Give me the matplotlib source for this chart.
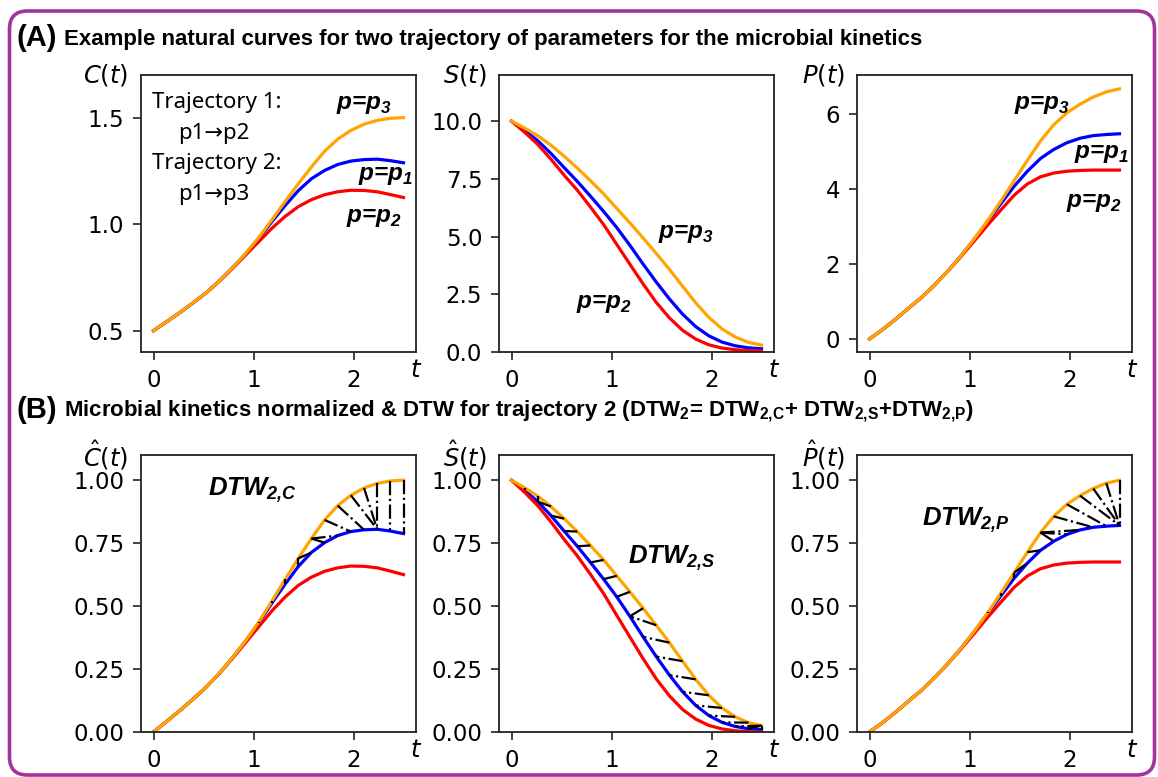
import numpy as np
import matplotlib
matplotlib.use("Agg")
import matplotlib.pyplot as plt
from matplotlib.patches import FancyBboxPatch

# ---------------- data ----------------
t = np.linspace(0, 2.5, 20)

C_p1 = [0.500, 0.542, 0.585, 0.630, 0.678, 0.733, 0.795, 0.861, 0.934, 1.012,
        1.087, 1.157, 1.213, 1.252, 1.280, 1.296, 1.303, 1.305, 1.298, 1.288]
C_p2 = [0.500, 0.542, 0.585, 0.630, 0.678, 0.732, 0.792, 0.855, 0.918, 0.981,
        1.036, 1.082, 1.115, 1.138, 1.152, 1.159, 1.158, 1.152, 1.139, 1.125]
C_p3 = [0.500, 0.542, 0.585, 0.630, 0.678, 0.733, 0.795, 0.862, 0.937, 1.020,
        1.106, 1.189, 1.268, 1.342, 1.399, 1.440, 1.469, 1.487, 1.497, 1.500]

S_p1 = [10.0, 9.60, 9.15, 8.60, 7.99, 7.39, 6.75, 6.09, 5.39, 4.62,
        3.81, 3.03, 2.30, 1.64, 1.10, 0.70, 0.43, 0.27, 0.18, 0.14]
S_p2 = [10.0, 9.52, 8.99, 8.35, 7.66, 7.01, 6.28, 5.52, 4.66, 3.80,
        2.95, 2.15, 1.48, 0.94, 0.56, 0.31, 0.17, 0.10, 0.06, 0.05]
S_p3 = [10.0, 9.70, 9.37, 8.96, 8.48, 7.97, 7.42, 6.85, 6.22, 5.59,
        4.94, 4.27, 3.58, 2.85, 2.13, 1.50, 1.00, 0.65, 0.42, 0.30]

P_p1 = [0.00, 0.25, 0.53, 0.83, 1.12, 1.46, 1.83, 2.24, 2.68, 3.15,
        3.62, 4.08, 4.48, 4.82, 5.06, 5.24, 5.36, 5.43, 5.46, 5.48]
P_p2 = [0.00, 0.25, 0.53, 0.83, 1.12, 1.46, 1.83, 2.22, 2.63, 3.05,
        3.45, 3.84, 4.14, 4.33, 4.43, 4.48, 4.50, 4.51, 4.51, 4.51]
P_p3 = [0.00, 0.25, 0.53, 0.83, 1.12, 1.46, 1.83, 2.24, 2.69, 3.17,
        3.69, 4.23, 4.77, 5.29, 5.72, 6.04, 6.27, 6.46, 6.60, 6.68]

series_names = ["C", "S", "P"]
raw = {"C": (C_p1, C_p2, C_p3), "S": (S_p1, S_p2, S_p3), "P": (P_p1, P_p2, P_p3)}
colors = {"p1": "blue", "p2": "red", "p3": "orange"}

top_labels = {"C": r"$C(t)$", "S": r"$S(t)$", "P": r"$P(t)$"}
bot_labels = {"C": r"$\hat{C}(t)$", "S": r"$\hat{S}(t)$", "P": r"$\hat{P}(t)$"}
top_ylims = {"C": (0.4, 1.7), "S": (0, 12.0), "P": (-0.35, 7.05)}
top_yticks = {"C": [0.5, 1.0, 1.5], "S": [0, 2.5, 5.0, 7.5, 10.0], "P": [0, 2, 4, 6]}
top_yfmt = {"C": "%.1f", "S": "%.1f", "P": "%d"}
bot_yticks = [0, 0.25, 0.5, 0.75, 1.0]
xticks = [0, 1, 2]

title_A = "Example natural curves for two trajectory of parameters for the microbial kinetics"
title_B = (r"Microbial kinetics normalized & DTW for trajectory 2 (DTW$_\mathregular{2}$= "
           r"DTW$_\mathregular{2{,}C}$+ DTW$_\mathregular{2{,}S}$+DTW$_\mathregular{2{,}P}$)")

# annotation texts / anchor positions (data coords)
p_annots = {
    "C": [("3", 1.83, 1.56), ("1", 2.05, 1.23), ("2", 1.92, 1.03)],
    "S": [("3", 1.47, 5.15), ("2", 0.65, 2.12)],
    "P": [("3", 1.44, 6.27), ("1", 2.05, 4.94), ("2", 1.97, 3.64)],
}
dtw_annots = {"C": ("C", 0.54, 0.96), "S": ("S", 1.16, 0.69), "P": ("P", 0.53, 0.84)}
traj_text = ["Trajectory 1:", "p1\u2192p2", "Trajectory 2:", "p1\u2192p3"]


def normalize(curves):
    allv = np.concatenate([np.asarray(c, float) for c in curves])
    lo, hi = allv.min(), allv.max()
    return [(np.asarray(c, float) - lo) / (hi - lo) for c in curves]


def dtw_path(a, b):
    n, m = len(a), len(b)
    D = np.full((n + 1, m + 1), np.inf)
    D[0, 0] = 0.0
    for i in range(1, n + 1):
        for j in range(1, m + 1):
            cost = abs(a[i - 1] - b[j - 1])
            D[i, j] = cost + min(D[i - 1, j], D[i, j - 1], D[i - 1, j - 1])
    i, j = n, m
    path = [(i - 1, j - 1)]
    while (i, j) != (1, 1):
        opts = [(D[i - 1, j - 1], i - 1, j - 1), (D[i - 1, j], i - 1, j), (D[i, j - 1], i, j - 1)]
        _, i, j = min(opts, key=lambda x: x[0])
        path.append((i - 1, j - 1))
    return path[::-1]


# ---------------- figure ----------------
W, H = 1158, 777
fig = plt.figure(figsize=(W / 100, H / 100), dpi=100)

border = FancyBboxPatch((9.5, 2), 1145, 764, boxstyle="round,pad=0,rounding_size=18",
                        transform=None, fill=False, edgecolor="#A1349F", linewidth=2.6)
fig.patches.append(border)

narrow = ["Liberation Sans Narrow", "Liberation Sans", "DejaVu Sans"]
fig.text(16 / W, 1 - 38 / H, "(A)", fontsize=21, fontweight="bold", family="Liberation Sans", va="center")
fig.text(64 / W, 1 - 39 / H, title_A, fontsize=16, fontweight="bold", family=narrow, va="center")
fig.text(16 / W, 1 - 410 / H, "(B)", fontsize=21, fontweight="bold", family="Liberation Sans", va="center")
fig.text(64 / W, 1 - 411 / H, title_B, fontsize=16, fontweight="bold", family=narrow, va="center")

lefts = [141, 499, 857]
axw = 275
rows_top = [75, 455]
axh = 277

LW = 2.3
for col, name in enumerate(series_names):
    c1, c2, c3 = raw[name]
    # ---- top row ----
    ax = fig.add_axes([lefts[col] / W, 1 - (rows_top[0] + axh) / H, axw / W, axh / H])
    ax.plot(t, c1, color=colors["p1"], lw=LW)
    ax.plot(t, c2, color=colors["p2"], lw=LW)
    ax.plot(t, c3, color=colors["p3"], lw=LW)
    ax.set_ylim(*top_ylims[name])
    ax.set_yticks(top_yticks[name])
    ax.yaxis.set_major_formatter(matplotlib.ticker.FormatStrFormatter(top_yfmt[name]))
    ax.set_xticks(xticks)
    ax.text(-0.045, 1.0, top_labels[name], transform=ax.transAxes, ha="right", va="center", fontsize=17.5)
    ax.text(1.0, -0.065, r"$t$", transform=ax.transAxes, ha="center", va="center", fontsize=17.5)
    for sub, x, y in p_annots[name]:
        ax.text(x, y, r"p=p$_\mathregular{%s}$" % sub, fontsize=17.5, fontweight="bold",
                fontstyle="italic", family="Liberation Sans", ha="left", va="center")
    if name == "C":
        ys = [0.9, 0.79, 0.68, 0.57]
        xs = [0.04, 0.135, 0.04, 0.135]
        for s, x, y in zip(traj_text, xs, ys):
            ax.text(x, y, s, transform=ax.transAxes, fontsize=16, family=["Noto Sans", "DejaVu Sans"],
                    ha="left", va="center")

    # ---- bottom row ----
    n1, n2, n3 = normalize((c1, c2, c3))
    axb = fig.add_axes([lefts[col] / W, 1 - (rows_top[1] + axh) / H, axw / W, axh / H])
    axb.plot(t, n1, color=colors["p1"], lw=LW)
    axb.plot(t, n2, color=colors["p2"], lw=LW)
    axb.plot(t, n3, color=colors["p3"], lw=LW)
    for i, j in dtw_path(n3, n1):
        axb.plot([t[i], t[j]], [n3[i], n1[j]], color="black", lw=1.6, ls="-.")
    axb.set_ylim(0, 1.1)
    axb.set_yticks(bot_yticks)
    axb.yaxis.set_major_formatter(matplotlib.ticker.FormatStrFormatter("%.2f"))
    axb.set_xticks(xticks)
    axb.text(-0.045, 1.0, bot_labels[name], transform=axb.transAxes, ha="right", va="center", fontsize=17.5)
    axb.text(1.0, -0.065, r"$t$", transform=axb.transAxes, ha="center", va="center", fontsize=17.5)
    sub, x, y = dtw_annots[name]
    axb.text(x, y, r"DTW$_\mathregular{2{,}%s}$" % sub, fontsize=18.5, fontweight="bold",
             fontstyle="italic", family="Liberation Sans", ha="left", va="center")

for ax in fig.axes:
    ax.tick_params(labelsize=16.5, length=6, width=1.2, color="#222222")
    ax.tick_params(axis="y", pad=6)
    ax.tick_params(axis="x", pad=6)
    for sp in ax.spines.values():
        sp.set_linewidth(1.3)
        sp.set_color("#222222")

fig.savefig("out.png", dpi=100)
